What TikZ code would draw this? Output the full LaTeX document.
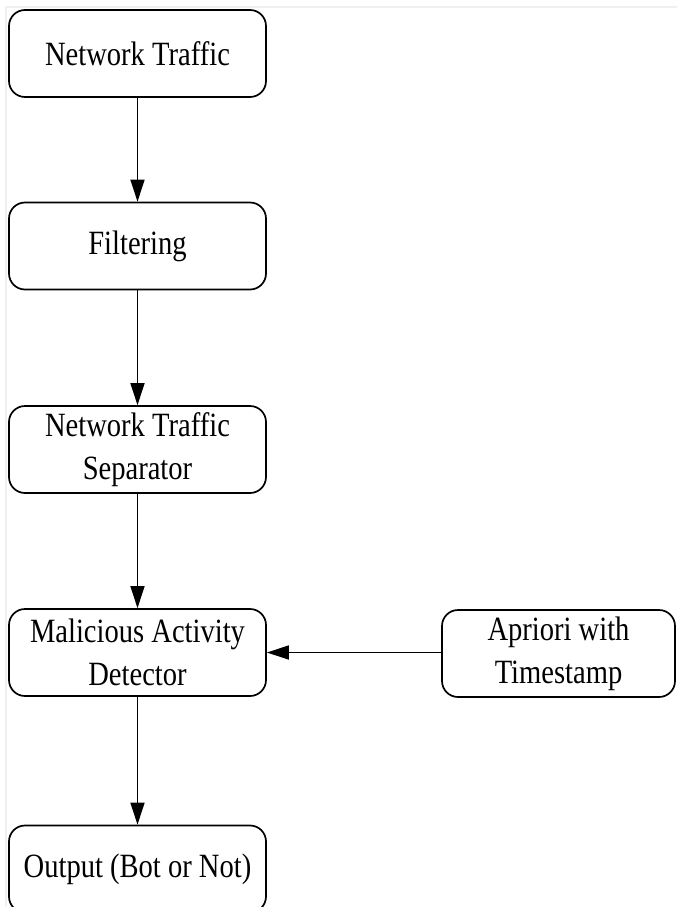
\documentclass[tikz,border=0pt]{standalone}
\usepackage{fontspec}
\setmainfont{Liberation Serif}[FakeStretch=0.84]
\usetikzlibrary{arrows.meta}
\tikzset{
  box/.style={draw=black, line width=1.7pt, rounded corners=16pt, fill=white,
    minimum width=257pt, minimum height=87pt, inner sep=0pt, align=center,
    font=\fontsize{34}{43}\selectfont},
  flow/.style={draw=black, line width=1.7pt, -{Triangle[length=22pt,width=14pt]}},
  frameline/.style={draw=gray!12, line width=1.2pt}
}
\begin{document}
\begin{tikzpicture}[x=1pt,y=-1pt]
\useasboundingbox (0,0) rectangle (677,907);
\draw[frameline] (6,907) -- (6,7) -- (677,7);
\node[box] (nt) at (137.5,53.5) {Network Traffic};
\node[box] (fl) at (137.5,246) {Filtering};
\node[box] (ns) at (137.5,449.5) {Network Traffic\\Separator};
\node[box] (md) at (137.5,652.5) {Malicious Activity\\Detector};
\node[box, minimum width=233pt] (ap) at (558.5,653.5) {Apriori with\\Timestamp};
\node[box] (out) at (137.5,869) {Output (Bot or Not)};
\draw[flow] (nt) -- (fl);
\draw[flow] (fl) -- (ns);
\draw[flow] (ns) -- (md);
\draw[flow] (md) -- (out);
\draw[flow] (ap.west |- md.east) -- (md.east);
\end{tikzpicture}
\end{document}
